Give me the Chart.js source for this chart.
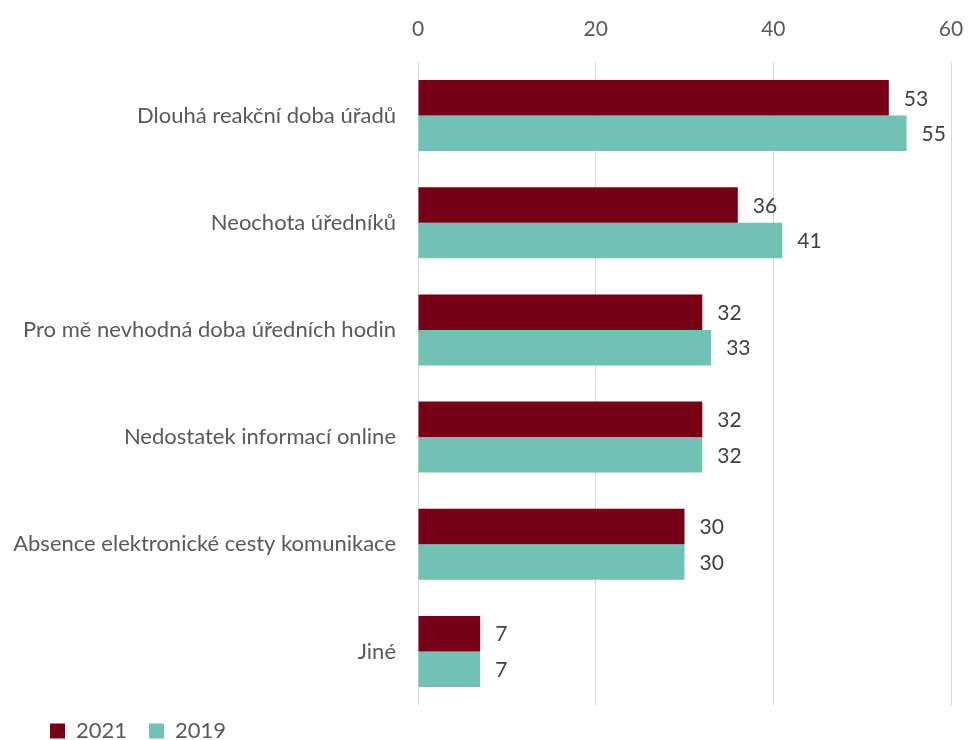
<!DOCTYPE html>
<html>
<head>
<meta charset="utf-8">
<script src="https://cdn.jsdelivr.net/npm/chart.js@4/dist/chart.umd.min.js"></script>
<style>
  html, body { margin: 0; padding: 0; background: #fff; }
  #wrap { width: 968px; height: 740px; }
</style>
</head>
<body>
<div id="wrap"><canvas id="chart"></canvas></div>
<script>
// Data
const categories = [
  'Dlouhá reakční doba úřadů',
  'Neochota úředníků',
  'Pro mě nevhodná doba úředních hodin',
  'Nedostatek informací online',
  'Absence elektronické cesty komunikace',
  'Jiné',
];
const values2021 = [53, 36, 32, 32, 30, 7];
const values2019 = [55, 41, 33, 32, 30, 7];
const xTicks = [0, 20, 40, 60];

const COLORS = {
  y2021: '#780014',
  y2019: '#70C2B4',
  text: '#595959',
  label: '#404040',
  grid: '#D9D9D9',
};
const FONT = "Lato, 'Open Sans', sans-serif";

// value labels to the right of each bar
const barLabels = {
  id: 'barLabels',
  afterDatasetsDraw(chart) {
    const ctx = chart.ctx;
    ctx.save();
    ctx.font = '21px ' + FONT;
    ctx.fillStyle = COLORS.label;
    ctx.textAlign = 'left';
    ctx.textBaseline = 'middle';
    chart.data.datasets.forEach((ds, i) => {
      chart.getDatasetMeta(i).data.forEach((el, j) => {
        ctx.fillText(String(ds.data[j]), el.x + 15, el.y + 1);
      });
    });
    ctx.restore();
  },
};

// nudge the legend: indent it a bit and lift it up
const legendNudge = {
  id: 'legendNudge',
  afterLayout(chart) {
    const lg = chart.legend;
    if (!lg) return;
    lg.left += 20;
    lg.top -= 7;
    lg.bottom -= 7;
  },
};

new Chart(document.getElementById('chart'), {
  type: 'bar',
  data: {
    labels: categories,
    datasets: [
      { label: '2021', data: values2021, backgroundColor: COLORS.y2021 },
      { label: '2019', data: values2019, backgroundColor: COLORS.y2019 },
    ],
  },
  options: {
    indexAxis: 'y',
    responsive: true,
    maintainAspectRatio: false,
    animation: false,
    categoryPercentage: 0.662,
    barPercentage: 1,
    layout: { padding: { left: 8, right: 1, top: 0, bottom: -19 } },
    plugins: {
      tooltip: { enabled: false },
      legend: {
        position: 'bottom',
        align: 'start',
        labels: {
          boxWidth: 15,
          boxHeight: 15,
          padding: 22,
          color: COLORS.text,
          font: { family: FONT, size: 22 },
        },
      },
    },
    scales: {
      x: {
        position: 'top',
        min: 0,
        max: 60,
        afterBuildTicks(scale) {
          scale.ticks = xTicks.map(v => ({ value: v }));
        },
        afterFit(scale) {
          scale.height = 62;
          scale.paddingLeft = 0;
          scale.paddingRight = 17;
        },
        ticks: {
          color: COLORS.text,
          font: { family: FONT, size: 21 },
          padding: 20,
        },
        grid: { color: COLORS.grid, lineWidth: 1, drawTicks: false },
        border: { display: false },
      },
      y: {
        afterFit(scale) { scale.width = 410; },
        ticks: {
          color: COLORS.text,
          font: { family: FONT, size: 22 },
          padding: 14,
        },
        grid: { display: false },
        border: { display: false },
      },
    },
  },
  plugins: [barLabels, legendNudge],
});
</script>
</body>
</html>
